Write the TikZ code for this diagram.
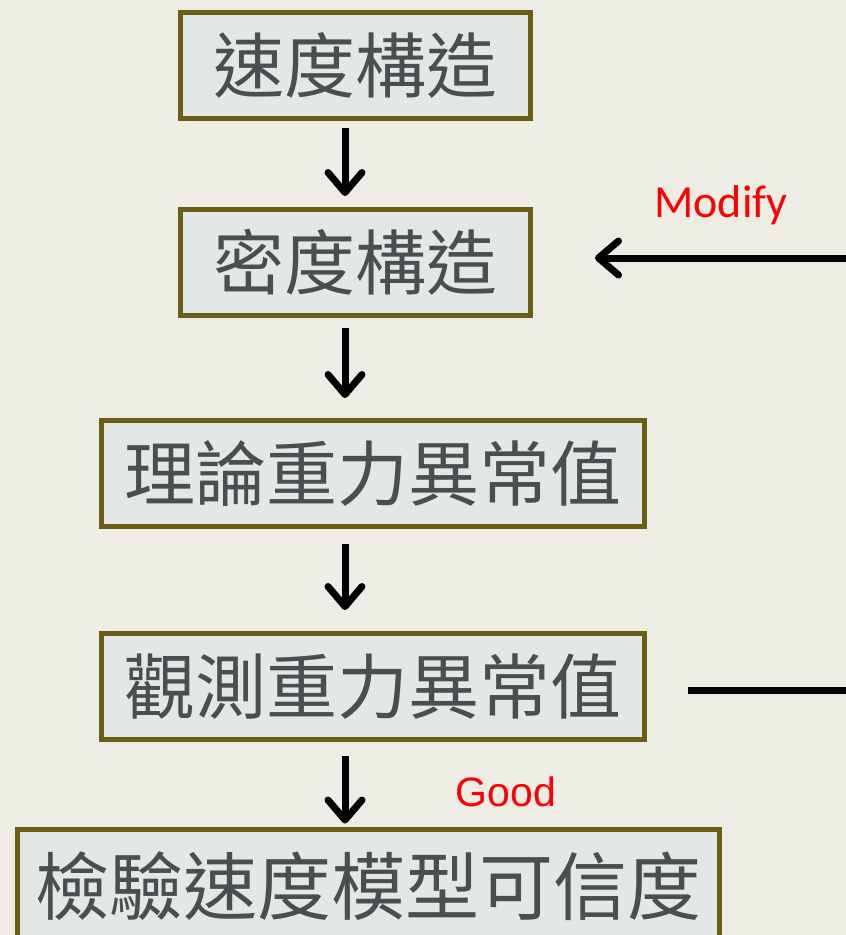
\documentclass[tikz,border=0pt]{standalone}
\usepackage{fontspec}
\newfontfamily\cjk{Noto Sans CJK TC}
\newfontfamily\carl{Carlito}
\newfontfamily\lsans{Liberation Sans}
\usetikzlibrary{arrows.meta,calc}
\definecolor{bg}{HTML}{EDECE5}
\definecolor{boxfill}{HTML}{E3E7E6}
\definecolor{boxline}{HTML}{6B5E14}
\definecolor{boxtext}{HTML}{4A4E50}
\tikzset{
  flowbox/.style={draw=boxline, line width=5pt, fill=boxfill, text=boxtext,
    inner sep=0pt, font=\cjk\fontsize{71}{71}\selectfont},
  arr/.style={line width=7pt, -{Straight Barb[length=20pt,width=34pt,line cap=round,line join=round]}},
  plainline/.style={line width=7pt},
  redlabel/.style={text=red, inner sep=0pt}
}
\begin{document}
\begin{tikzpicture}[x=1pt,y=-1pt]
\fill[bg] (0,0) rectangle (846,935);
\useasboundingbox (0,0) rectangle (846,935);
\node[flowbox, minimum width=350pt, minimum height=106pt] (b1) at (355.5,65.5) {速度構造};
\node[flowbox, minimum width=350pt, minimum height=106pt] (b2) at (355.5,262.5) {密度構造};
\node[flowbox, minimum width=543pt, minimum height=106pt] (b3) at (373,473.5) {理論重力異常值};
\node[flowbox, minimum width=543pt, minimum height=106pt] (b4) at (373,686.5) {觀測重力異常值};
\node[flowbox, minimum width=702pt, minimum height=114pt, font=\cjk\fontsize{74}{74}\selectfont] (b5) at (368.5,886) {檢驗速度模型可信度};
\coordinate (ax) at (345,0);
\draw[arr, shorten <=7pt, shorten >=11pt] (b1.south -| ax) -- (b2.north -| ax);
\draw[arr, shorten <=10pt, shorten >=20pt] (b2.south -| ax) -- (b3.north -| ax);
\draw[arr, shorten <=15pt, shorten >=21pt] (b3.south -| ax) -- (b4.north -| ax);
\draw[arr, shorten <=14pt, shorten >=3pt] (b4.south -| ax) -- (b5.north -| ax);
\coordinate (rtop) at (846,258);
\coordinate (rbot) at (846,690);
\draw[arr] (rtop) -- ($(b2.east|-rtop)+(62,0)$);
\draw[plainline] ($(b4.east|-rbot)+(41,0)$) -- (rbot);
\node[redlabel, font=\carl\fontsize{46}{46}\selectfont] (mod) at (721,205) {Modify};
\node[redlabel, font=\lsans\fontsize{41}{41}\selectfont] (good) at (506,792) {Good};
\end{tikzpicture}
\end{document}
